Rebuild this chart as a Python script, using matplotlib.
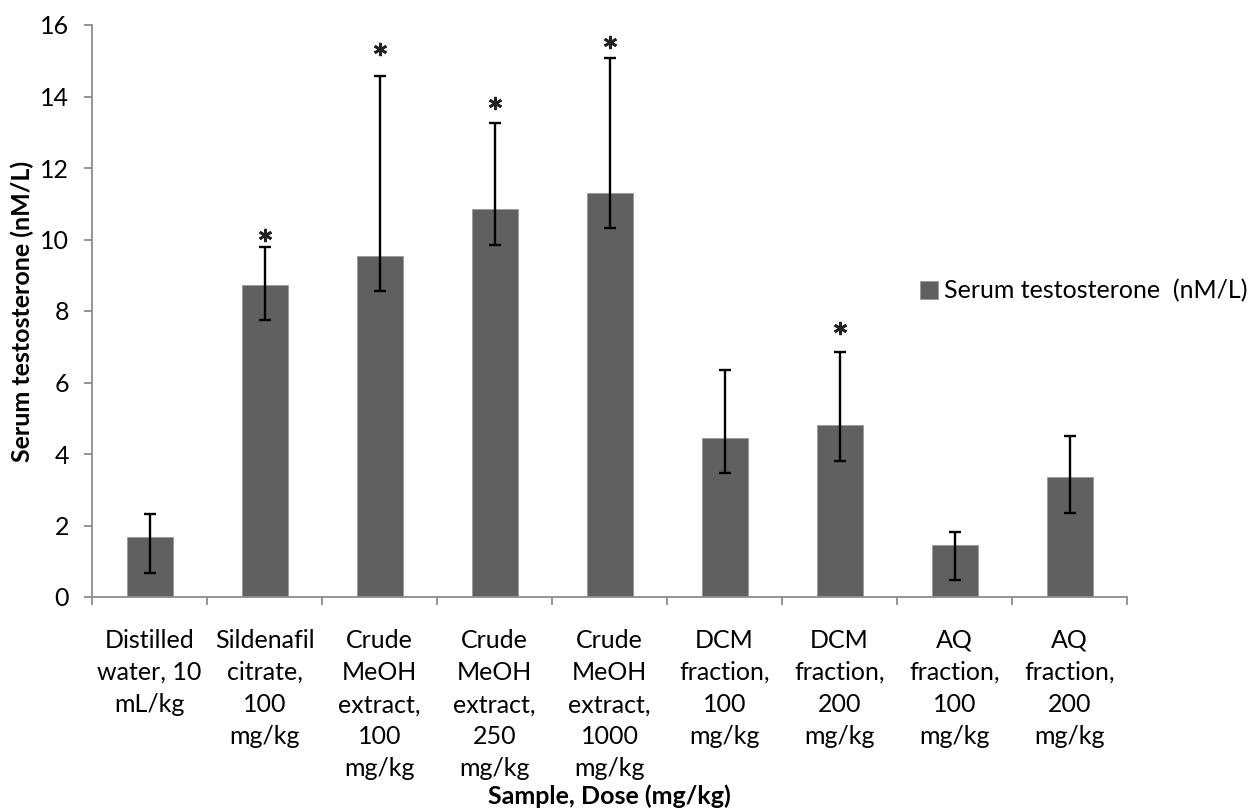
import matplotlib
matplotlib.use("Agg")
import matplotlib.pyplot as plt
import numpy as np

categories = [
    "Distilled\nwater, 10\nmL/kg",
    "Sildenafil\ncitrate,\n100\nmg/kg",
    "Crude\nMeOH\nextract,\n100\nmg/kg",
    "Crude\nMeOH\nextract,\n250\nmg/kg",
    "Crude\nMeOH\nextract,\n1000\nmg/kg",
    "DCM\nfraction,\n100\nmg/kg",
    "DCM\nfraction,\n200\nmg/kg",
    "AQ\nfraction,\n100\nmg/kg",
    "AQ\nfraction,\n200\nmg/kg",
]
values = [1.68, 8.73, 9.55, 10.85, 11.31, 4.46, 4.81, 1.46, 3.35]
err_upper = [0.64, 1.07, 5.03, 2.42, 3.78, 1.90, 2.03, 0.36, 1.15]
err_lower = [1.00, 0.98, 1.00, 1.00, 1.00, 0.99, 1.00, 0.98, 0.99]
star_idx = [1, 2, 3, 4, 6]
star_y = [10.13, 15.33, 13.83, 15.53, 7.52]
yticks = [0, 2, 4, 6, 8, 10, 12, 14, 16]
series_name = "Serum testosterone  (nM/L)"

plt.rcParams['font.family'] = ['Lato', 'DejaVu Sans']
FS = 18

fig = plt.figure(figsize=(12.48, 8.09), dpi=100)
ax = fig.add_axes([92/1248, 1-597/809, (1127-92)/1248, (597-25)/809])

x = np.arange(len(categories))
bars = ax.bar(x, values, width=0.4, color='#606060', edgecolor='#9a9a9a',
              linewidth=0.6, label=series_name, zorder=2)
ax.errorbar(x, values, yerr=[err_lower, err_upper], fmt='none', ecolor='black',
            elinewidth=1.7, capsize=4.5, capthick=1.7, zorder=3)

ax.plot(x[star_idx], star_y, linestyle='none', marker=(6, 2, 0), markersize=9.5,
        markeredgewidth=1.9, color='#222222', zorder=4)

ax.set_xlim(-0.5, len(categories) - 0.5)
ax.set_ylim(0, 16)
ax.set_yticks(yticks)
ax.set_yticklabels([str(t) for t in yticks])
ax.set_xticks(x)
ax.set_xticklabels(categories, fontsize=FS, linespacing=1.48)
ax.set_xticks(np.arange(-0.5, len(categories), 1.0), minor=True)
ax.tick_params(axis='x', which='major', length=0, pad=23)
ax.tick_params(axis='x', which='minor', length=5.5, width=1.3, color='#8c8c8c')
ax.tick_params(axis='y', length=5.5, width=1.3, color='#8c8c8c', labelsize=FS, pad=11)

for s in ['top', 'right']:
    ax.spines[s].set_visible(False)
for s in ['left', 'bottom']:
    ax.spines[s].set_color('#8c8c8c')
    ax.spines[s].set_linewidth(1.3)

ax.set_ylabel("Serum testosterone (nM/L)", fontsize=FS, fontweight='bold', va='center')
ax.yaxis.set_label_coords((22 - 92) / 1035, 0.5)
fig.text(609.5/1248, 1-796/809, "Sample, Dose (mg/kg)", ha='center', va='center',
         fontsize=FS, fontweight='bold')

fig.legend(handles=[bars], labels=[series_name], loc='center left',
           bbox_to_anchor=(920/1248, 1-291/809), frameon=False, fontsize=FS,
           handlelength=0.7, handleheight=0.7, handletextpad=0.25, borderpad=0,
           borderaxespad=0)

fig.savefig("out.png", dpi=100)
